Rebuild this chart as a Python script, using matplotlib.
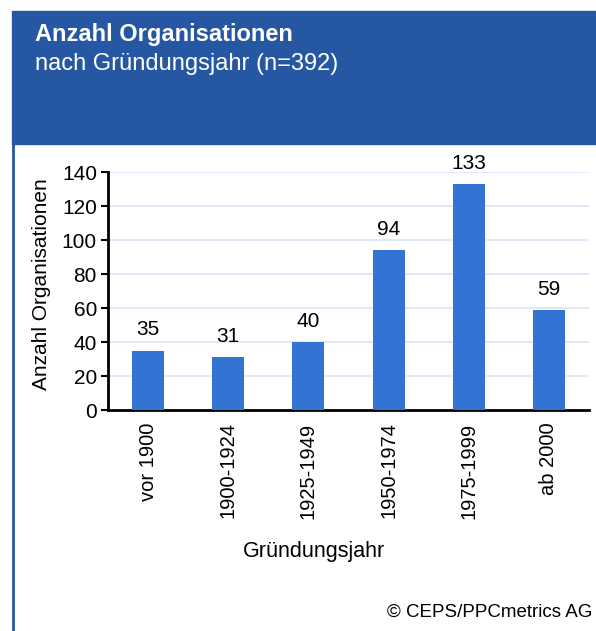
import matplotlib
matplotlib.use("Agg")
import matplotlib.pyplot as plt
from matplotlib.patches import Rectangle
from matplotlib.lines import Line2D

categories = ["vor 1900", "1900-1924", "1925-1949", "1950-1974", "1975-1999", "ab 2000"]
values = [35, 31, 40, 94, 133, 59]
yticks = [0, 20, 40, 60, 80, 100, 120, 140]

title = "Anzahl Organisationen"
subtitle = "nach Gründungsjahr (n=392)"
ylabel = "Anzahl Organisationen"
xlabel = "Gründungsjahr"
credit = "© CEPS/PPCmetrics AG"

plt.rcParams['font.family'] = ['Liberation Sans', 'DejaVu Sans']

W, H = 596, 631
fig = plt.figure(figsize=(W / 100, H / 100), dpi=100)

header_col = "#2557A3"
bar_col = "#3373D4"

# header block
fig.patches.append(Rectangle((12 / W, 1 - 144 / H), 1 - 12 / W, (144 - 11) / H,
                             transform=fig.transFigure, color=header_col, zorder=0))
# left border line
fig.lines.append(Line2D([13 / W, 13 / W], [0, 1 - 144 / H], transform=fig.transFigure,
                        color=header_col, lw=2))

fig.text(35 / W, 1 - 35 / H, title, color="white", fontsize=17, fontweight="bold", va="center")
fig.text(35 / W, 1 - 64 / H, subtitle, color="white", fontsize=17, va="center")

ax = fig.add_axes([108 / W, 1 - 410 / H, (589 - 108) / W, (410 - 172) / H])
x = range(len(categories))
bars = ax.bar(x, values, width=0.4, color=bar_col, zorder=3)
for xi, v in zip(x, values):
    ax.annotate(str(v), (xi, v), xytext=(0, 8), textcoords="offset points",
                ha="center", va="bottom", fontsize=15)

ax.set_xlim(-0.5, len(categories) - 0.5)
ax.set_ylim(0, 140)
ax.set_yticks(yticks)
ax.set_xticks(list(x))
ax.set_xticklabels(categories, rotation=90, fontsize=14.5)
ax.tick_params(axis='y', labelsize=15, length=5, width=1.5, direction='out', pad=3)
ax.tick_params(axis='x', length=0, pad=9)
ax.grid(axis='y', color="#DAE5F6", lw=1.2, zorder=0)
for s in ["top", "right"]:
    ax.spines[s].set_visible(False)
ax.spines["left"].set_linewidth(2)
ax.spines["bottom"].set_linewidth(2)
ax.set_ylabel(ylabel, fontsize=15)
ax.yaxis.set_label_coords((42 - 108) / 481, (410 - 284) / 238)
ax.set_xlabel(xlabel, fontsize=15.5)
ax.xaxis.set_label_coords((314 - 108) / 481, (410 - 551) / 238)
ax.xaxis.label.set_va("center")
ax.yaxis.label.set_va("center")

fig.text(592 / W, 1 - 612 / H, credit, ha="right", va="center", fontsize=13.5)

fig.savefig("out.png", dpi=100)
